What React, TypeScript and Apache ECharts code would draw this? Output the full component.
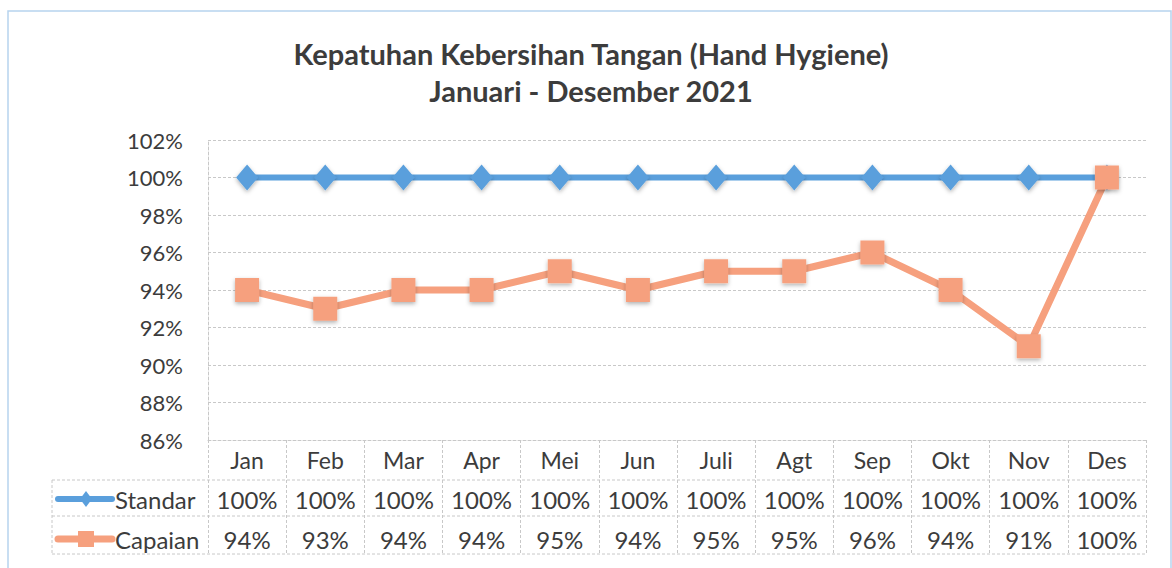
import React, { useEffect, useRef } from "react";
import * as echarts from "echarts";

const months = ["Jan", "Feb", "Mar", "Apr", "Mei", "Jun", "Juli", "Agt", "Sep", "Okt", "Nov", "Des"];
const standar = [100, 100, 100, 100, 100, 100, 100, 100, 100, 100, 100, 100];
const capaian = [94, 93, 94, 94, 95, 94, 95, 95, 96, 94, 91, 100];
const seriesNames = ["Standar", "Capaian"];
const titleLines = ["Kepatuhan Kebersihan Tangan (Hand Hygiene)", "Januari - Desember 2021"];

const FONT = "Lato, 'Open Sans', sans-serif";
const TXT = "#3c3c3c";
const BLUE = "#5a9fdc";
const ORANGE = "#f6a07e";
const GRID = "#c8c8c8";

export default function App() {
  const ref = useRef<HTMLDivElement>(null);
  useEffect(() => {
    document.body.style.margin = "0";
    const chart = echarts.init(ref.current!, undefined, { renderer: "svg" });
    const L = 208, R = 1146, T = 140, B = 440;
    const rowLines = [480, 516, 554];
    const legendX = 52;
    const tableLine = { stroke: GRID, lineWidth: 1, lineDash: [3, 2] };
    const graphics: any[] = [
      {
        type: "rect",
        shape: { x: 8, y: 11, width: 1163, height: 570 },
        style: { fill: "none", stroke: "#b7d3ee", lineWidth: 1.5 },
        silent: true,
      },
      ...rowLines.map((y) => ({
        type: "line",
        shape: { x1: legendX, y1: y, x2: R, y2: y },
        style: tableLine,
        silent: true,
      })),
      {
        type: "line",
        shape: { x1: legendX, y1: rowLines[0], x2: legendX, y2: rowLines[2] },
        style: tableLine,
        silent: true,
      },
      {
        type: "line",
        shape: { x1: 58, y1: 499, x2: 112, y2: 499 },
        style: { stroke: BLUE, lineWidth: 6, lineCap: "round" },
      },
      {
        type: "polygon",
        shape: { points: [[86, 491], [92, 499], [86, 507], [80, 499]] },
        style: { fill: BLUE },
      },
      {
        type: "line",
        shape: { x1: 58, y1: 539, x2: 112, y2: 539 },
        style: { stroke: ORANGE, lineWidth: 7, lineCap: "round" },
      },
      {
        type: "rect",
        shape: { x: 78, y: 531, width: 16, height: 16 },
        style: { fill: ORANGE },
      },
      {
        type: "text",
        x: 115,
        y: 499,
        style: { text: seriesNames[0], font: `24px ${FONT}`, fill: TXT, verticalAlign: "middle" },
      },
      {
        type: "text",
        x: 115,
        y: 539,
        style: { text: seriesNames[1], font: `24px ${FONT}`, fill: TXT, verticalAlign: "middle" },
      },
    ];

    const rowAxis = (data: string[], offset: number, margin: number) => ({
      type: "category",
      gridIndex: 0,
      position: "bottom",
      offset,
      data,
      boundaryGap: true,
      axisLine: { show: false },
      axisTick: { show: false },
      axisLabel: { interval: 0, margin, fontSize: 24, color: TXT, fontFamily: FONT, verticalAlign: "middle" },
    });

    chart.setOption({
      animation: false,
      title: {
        text: titleLines.join("\n"),
        left: 586,
        textAlign: "center",
        top: 30,
        textStyle: { fontSize: 29, fontWeight: "bold", color: TXT, fontFamily: FONT, lineHeight: 37 },
      },
      grid: { left: L, right: 1172 - R, top: T, bottom: 568 - B },
      xAxis: [
        {
          type: "category",
          data: months,
          boundaryGap: true,
          axisLine: { show: true, lineStyle: { color: GRID, type: [3, 2] } },
          axisTick: { show: true, interval: 0, length: 114, lineStyle: { color: GRID, type: [3, 2] } },
          axisLabel: { interval: 0, margin: 20, fontSize: 23, color: TXT, fontFamily: FONT, verticalAlign: "middle" },
        },
        rowAxis(standar.map((v) => v + "%"), 40, 19),
        rowAxis(capaian.map((v) => v + "%"), 76, 23),
      ],
      yAxis: {
        type: "value",
        min: 86,
        max: 102,
        interval: 2,
        axisLine: { show: true, lineStyle: { color: GRID, type: [3, 2] } },
        axisTick: { show: false },
        splitLine: { lineStyle: { color: GRID, type: [3, 2] } },
        axisLabel: { formatter: "{value}%", margin: 25, fontSize: 22, color: TXT, fontFamily: FONT },
      },
      series: [
        {
          name: seriesNames[0],
          type: "line",
          data: standar,
          symbol: "diamond",
          symbolSize: [22, 26],
          itemStyle: { color: BLUE, shadowBlur: 4, shadowColor: "rgba(0,0,0,0.3)", shadowOffsetY: 2 },
          lineStyle: { color: BLUE, width: 6 },
        },
        {
          name: seriesNames[1],
          type: "line",
          data: capaian,
          symbol: "rect",
          symbolSize: 24,
          itemStyle: { color: ORANGE, shadowBlur: 4, shadowColor: "rgba(0,0,0,0.3)", shadowOffsetY: 2 },
          lineStyle: { color: ORANGE, width: 7 },
        },
      ],
      graphic: graphics,
    });
    return () => chart.dispose();
  }, []);
  return <div ref={ref} style={{ width: 1172, height: 568 }} />;
}
